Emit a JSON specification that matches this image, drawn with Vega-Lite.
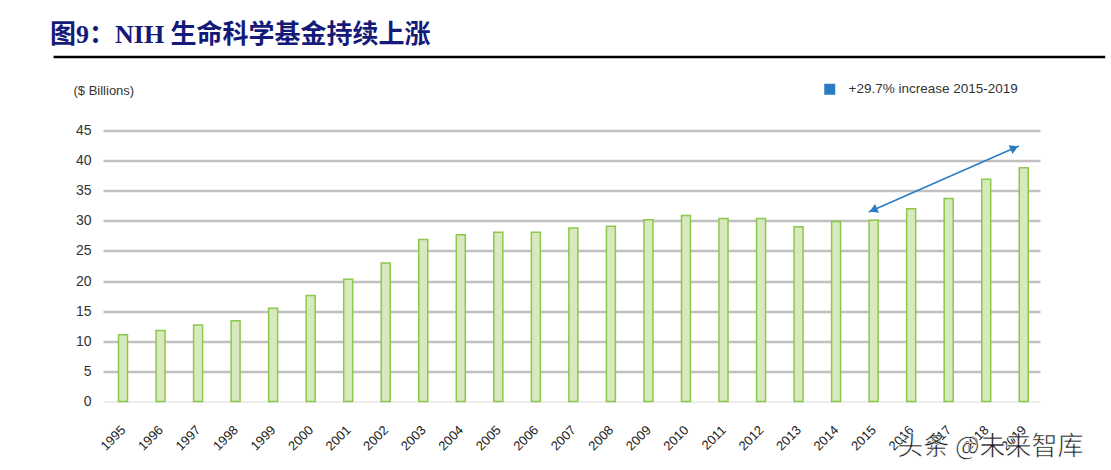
{
  "$schema": "https://vega.github.io/schema/vega-lite/v6.json",
  "autosize": {"type": "none"},
  "width": 937,
  "height": 271,
  "padding": {"left": 103, "top": 130.5, "right": 71, "bottom": 68.5},
  "background": "white",
  "title": {
    "text": "图9：NIH 生命科学基金持续上涨",
    "anchor": "start",
    "frame": "group",
    "dx": -53,
    "offset": 8,
    "font": "Liberation Serif, Noto Sans CJK SC",
    "fontSize": 26,
    "fontWeight": "bold",
    "color": "#141a78"
  },
  "config": {
    "view": {"stroke": null},
    "font": "Liberation Sans, sans-serif"
  },
  "datasets": {
    "funding": [
      {"year": 1995, "value": 11.1},
      {"year": 1996, "value": 11.8},
      {"year": 1997, "value": 12.7},
      {"year": 1998, "value": 13.4},
      {"year": 1999, "value": 15.5},
      {"year": 2000, "value": 17.6},
      {"year": 2001, "value": 20.3},
      {"year": 2002, "value": 23.0},
      {"year": 2003, "value": 26.9},
      {"year": 2004, "value": 27.7},
      {"year": 2005, "value": 28.1},
      {"year": 2006, "value": 28.1},
      {"year": 2007, "value": 28.8},
      {"year": 2008, "value": 29.1},
      {"year": 2009, "value": 30.2},
      {"year": 2010, "value": 30.9},
      {"year": 2011, "value": 30.4},
      {"year": 2012, "value": 30.4},
      {"year": 2013, "value": 29.0},
      {"year": 2014, "value": 29.9},
      {"year": 2015, "value": 30.1},
      {"year": 2016, "value": 32.0},
      {"year": 2017, "value": 33.7},
      {"year": 2018, "value": 36.9},
      {"year": 2019, "value": 38.8}
    ],
    "arrow": [
      {"year": 2014.87, "value": 31.47, "year2": 2018.87, "value2": 42.43}
    ],
    "heads": [
      {"year": 2014.99, "value": 31.8, "end": "start", "label": "+29.7% increase 2015-2019"},
      {"year": 2018.75, "value": 42.1, "end": "end", "label": "+29.7% increase 2015-2019"}
    ],
    "underline": [
      {"year": 1993.15, "year2": 2021.17, "value": 57.2}
    ],
    "watermark": [
      {"year": 2018.11, "value": -7.56, "text": "头条 @未来智库"}
    ]
  },
  "encoding": {
    "x": {
      "field": "year",
      "type": "quantitative",
      "scale": {"domain": [1994.6, 2019.3], "nice": false, "zero": false},
      "axis": {
        "title": null,
        "values": [1995, 1996, 1997, 1998, 1999, 2000, 2001, 2002, 2003, 2004, 2005, 2006, 2007, 2008, 2009, 2010, 2011, 2012, 2013, 2014, 2015, 2016, 2017, 2018, 2019],
        "format": "d",
        "labelAngle": -45,
        "labelAlign": "right",
        "labelBaseline": "middle",
        "labelFontSize": 13,
        "labelColor": "#222",
        "labelPadding": 26,
        "labelDx": 7,
        "ticks": false,
        "domain": false,
        "grid": false,
        "labelFlush": false,
        "labelOverlap": false
      }
    },
    "y": {
      "field": "value",
      "type": "quantitative",
      "scale": {"domain": [0, 45], "nice": false},
      "axis": {
        "values": [0, 5, 10, 15, 20, 25, 30, 35, 40, 45],
        "title": "($ Billions)",
        "titleAngle": 0,
        "titleAlign": "left",
        "titleBaseline": "middle",
        "titleX": -30,
        "titleY": -40,
        "titleFontSize": 13,
        "titleFontWeight": "normal",
        "titleColor": "#333",
        "labelFontSize": 14,
        "labelColor": "#333",
        "labelPadding": 12,
        "labelOverlap": false,
        "ticks": false,
        "domain": false,
        "gridColor": {"condition": {"test": "datum.value === 0", "value": "#dcdcdc"}, "value": "#c0c0c0"},
        "gridWidth": {"condition": {"test": "datum.value === 0", "value": 1.2}, "value": 2.5}
      }
    }
  },
  "layer": [
    {
      "data": {"name": "funding"},
      "mark": {"type": "bar", "width": 9, "fill": "#d7e9bd", "stroke": "#8cc84b", "strokeWidth": 1.5}
    },
    {
      "data": {"name": "arrow"},
      "mark": {"type": "rule", "color": "#2a7bc2", "strokeWidth": 1.5},
      "encoding": {
        "x2": {"field": "year2"},
        "y2": {"field": "value2"}
      }
    },
    {
      "data": {"name": "heads"},
      "mark": {"type": "point", "shape": "triangle-up", "filled": true, "opacity": 1, "size": 90},
      "encoding": {
        "angle": {"field": "end", "type": "nominal", "scale": {"domain": ["start", "end"], "range": [246.6, 66.6]}, "legend": null},
        "color": {
          "field": "label",
          "type": "nominal",
          "scale": {"range": ["#2a7bc2"]},
          "legend": {
            "title": null,
            "orient": "none",
            "legendX": 720,
            "legendY": -48,
            "symbolType": "square",
            "symbolSize": 121,
            "symbolOpacity": 1,
            "labelFontSize": 13.5,
            "labelColor": "#333",
            "labelOffset": 12,
            "labelLimit": 0,
            "padding": 0
          }
        }
      }
    },
    {
      "data": {"name": "underline"},
      "mark": {"type": "rule", "color": "#000", "strokeWidth": 2.5, "clip": false},
      "encoding": {
        "x2": {"field": "year2"}
      }
    },
    {
      "data": {"name": "watermark"},
      "mark": {"type": "text", "font": "Noto Sans CJK SC", "fontSize": 26, "color": "#1a1a1a", "stroke": "white", "strokeWidth": 0.6, "align": "center", "baseline": "middle", "clip": false},
      "encoding": {
        "text": {"field": "text"}
      }
    }
  ]
}
